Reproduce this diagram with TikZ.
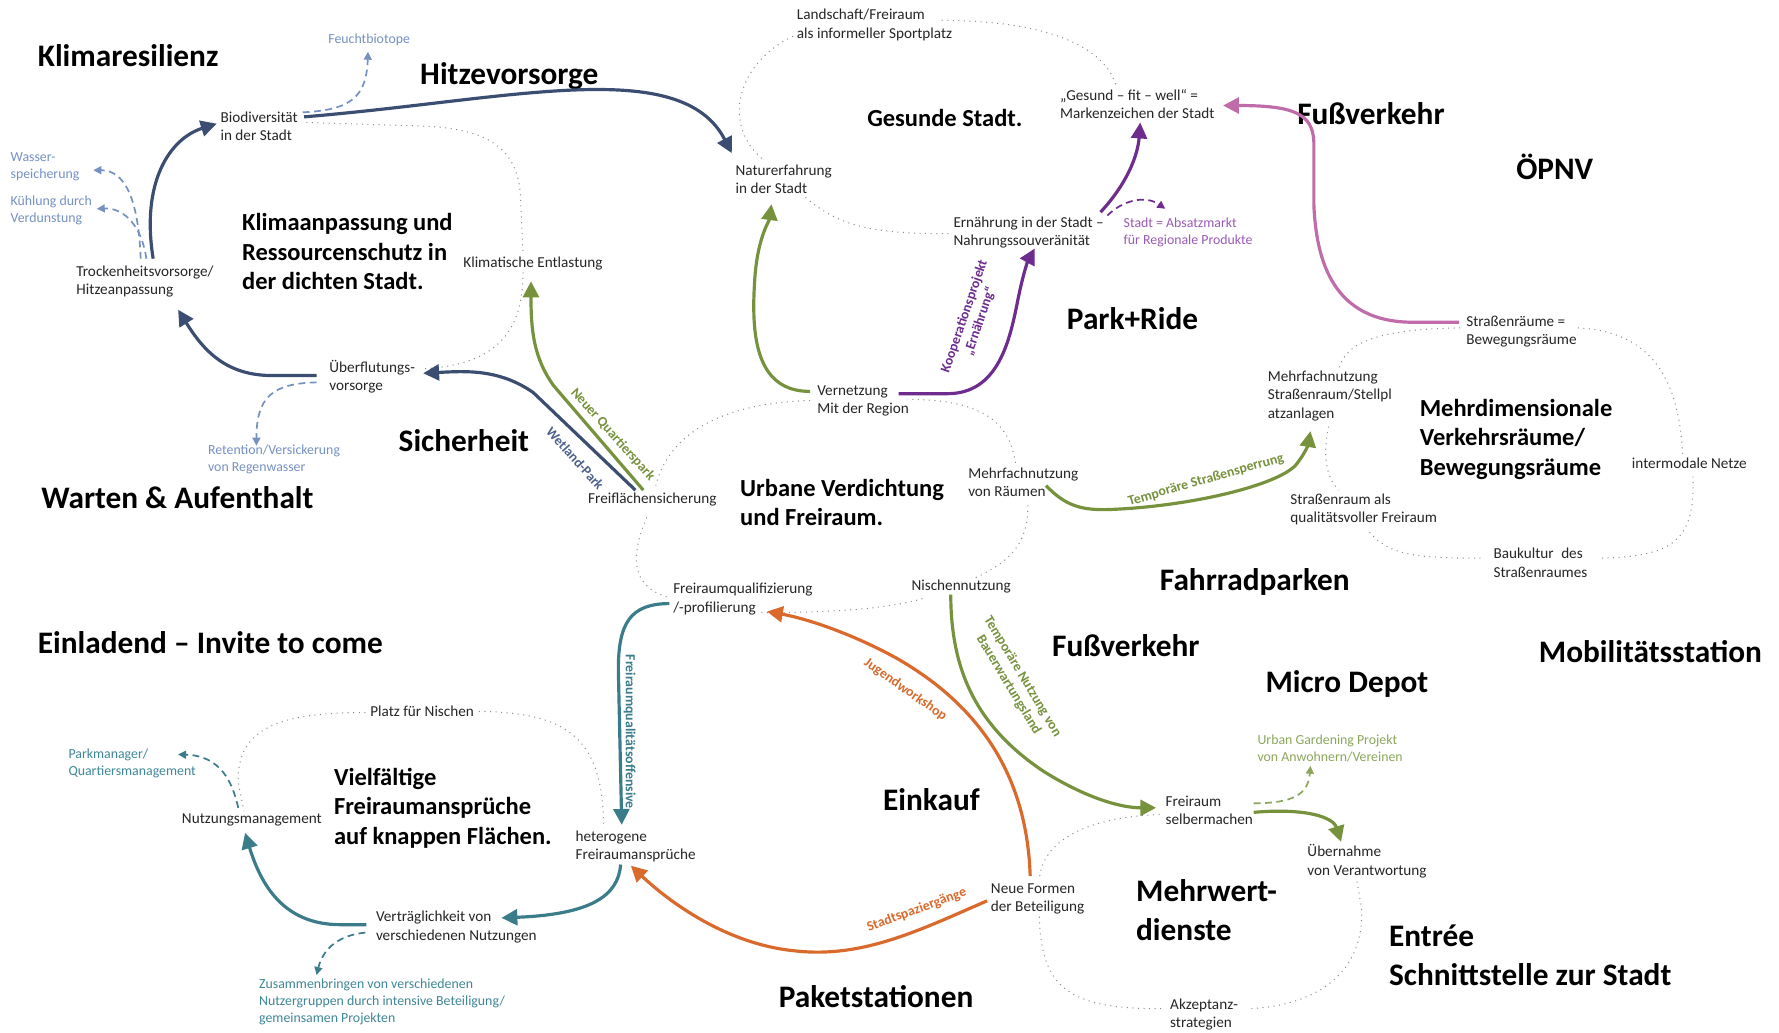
\documentclass[tikz,border=0pt]{standalone}
\usepackage{fontspec}
\setmainfont{Carlito}
\usetikzlibrary{arrows.meta,calc}
\definecolor{navy}{HTML}{3B4E72}
\definecolor{lblue}{HTML}{7591C2}
\definecolor{ogreen}{HTML}{76923C}
\definecolor{lgreen}{HTML}{8CA65C}
\definecolor{purp}{HTML}{6E2C8E}
\definecolor{lpurp}{HTML}{9A5AB5}
\definecolor{pink}{HTML}{C06CAB}
\definecolor{orng}{HTML}{D96A2C}
\definecolor{teal}{HTML}{3A7C8A}
\definecolor{lteal}{HTML}{3F8797}
\begin{document}
\begin{tikzpicture}[x=0.5pt,y=-0.5pt,
  tsmall/.style={font=\fontsize{6.7}{8}\selectfont, align=left, anchor=west, inner sep=0pt, text=black!85},
  tbig/.style={font=\fontsize{13.8}{17}\selectfont\bfseries, align=left, anchor=west, inner sep=0pt},
  tmid/.style={font=\fontsize{10.8}{13}\selectfont\bfseries, align=left, anchor=west, inner sep=0pt},
  tside/.style={font=\fontsize{6.1}{7.5}\selectfont, align=left, anchor=west, inner sep=0pt},
  alab/.style={font=\fontsize{6.1}{7.2}\selectfont\bfseries, inner sep=0pt, align=center},
  gdot/.style={draw=black!45, line width=0.45pt, dotted},
  sflow/.style={line width=1.4pt, -{Triangle[length=7pt,width=7pt]}},
  dflow/.style={line width=0.75pt, dash pattern=on 3pt off 2pt, -{Triangle[length=3.5pt,width=3.5pt]}}
]
\useasboundingbox (0,0) rectangle (1568,910);
\fill[white] (0,0) rectangle (1568,910);

% ---------- big labels ----------
\node[tbig] (klres) at (33,49) {Klimaresilienz};
\node[tbig] (hitze) at (370,67) {Hitzevorsorge};
\node[tbig] (fuss1) at (1143,100) {Fußverkehr};
\node[tbig] (oepnv) at (1336,147) {ÖPNV};
\node[tbig] (parkride) at (940,281) {Park+Ride};
\node[tbig] (sicher) at (351,388) {Sicherheit};
\node[tbig] (warten) at (36,439) {Warten \& Aufenthalt};
\node[tbig] (einl) at (33,566) {Einladend – Invite to come};
\node[tbig] (fahrrad) at (1022,513) {Fahrradparken};
\node[tbig] (fuss2) at (927,569) {Fußverkehr};
\node[tbig] (micro) at (1115,603) {Micro Depot};
\node[tbig] (mobil) at (1356,574) {Mobilitätsstation};
\node[tbig] (einkauf) at (778,705) {Einkauf};
\node[tbig] (mehrwert) at (1001,802) {Mehrwert-\\dienste};
\node[tbig] (entree) at (1224,842) {Entrée\\Schnittstelle zur Stadt};
\node[tbig] (paket) at (686,878) {Paketstationen};

% ---------- cycle titles ----------
\node[tmid] (t1) at (213,222) {Klimaanpassung und\\Ressourcenschutz in\\der dichten Stadt.};
\node[tmid] (t2) at (764,104) {Gesunde Stadt.};
\node[tmid] (t3) at (652,443) {Urbane Verdichtung\\und Freiraum.};
\node[tmid] (t4) at (1251,387) {Mehrdimensionale\\Verkehrsräume/\\Bewegungsräume};
\node[tmid] (t5) at (294,712) {Vielfältige\\Freiraumansprüche\\auf knappen Flächen.};

% ---------- small nodes ----------
\node[tsmall] (bio) at (194,111) {Biodiversität\\in der Stadt};
\node[tsmall] (trock) at (67,248) {Trockenheitsvorsorge/\\Hitzeanpassung};
\node[tsmall] (klimat) at (408,232) {Klimatische Entlastung};
\node[tsmall] (ueber) at (290,332) {Überflutungs-\\vorsorge};
\node[tsmall] (land) at (702,22) {Landschaft/Freiraum\\als informeller Sportplatz};
\node[tsmall] (natur) at (648,158) {Naturerfahrung\\in der Stadt};
\node[tsmall] (gesund) at (934,92) {„Gesund – fit – well“ =\\Markenzeichen der Stadt};
\node[tsmall] (ernaehr) at (840,205) {Ernährung in der Stadt –\\Nahrungssouveränität};
\node[tsmall] (vernetz) at (720,353) {Vernetzung\\Mit der Region};
\node[tsmall] (freifl) at (518,440) {Freiflächensicherung};
\node[tsmall] (mehrf) at (853,425) {Mehrfachnutzung\\von Räumen};
\node[tsmall] (nische) at (803,517) {Nischennutzung};
\node[tsmall] (fqual) at (593,528) {Freiraumqualifizierung\\/-profilierung};
\node[tsmall] (strr) at (1292,292) {Straßenräume =\\Bewegungsräume};
\node[tsmall] (mehrfs) at (1117,349) {Mehrfachnutzung\\Straßenraum/Stellpl\\atzanlagen};
\node[tsmall] (intermod) at (1438,408) {intermodale Netze};
\node[tsmall] (strals) at (1137,449) {Straßenraum als\\qualitätsvoller Freiraum};
\node[tsmall] (baukultur) at (1316,496) {Baukultur\enspace des\\Straßenraumes};
\node[tsmall] (platz) at (326,627) {Platz für Nischen};
\node[tsmall] (nutzung) at (160,723) {Nutzungsmanagement};
\node[tsmall] (hetero) at (507,746) {heterogene\\Freiraumansprüche};
\node[tsmall] (vertr) at (331,817) {Verträglichkeit von\\verschiedenen Nutzungen};
\node[tsmall] (neue) at (873,792) {Neue Formen\\der Beteiligung};
\node[tsmall] (freisel) at (1027,714) {Freiraum\\selbermachen};
\node[tsmall] (uebern) at (1152,759) {Übernahme\\von Verantwortung};
\node[tsmall] (akzept) at (1031,894) {Akzeptanz-\\strategien};

% ---------- side labels ----------
\node[tside, text=lblue] (feucht) at (289,35) {Feuchtbiotope};
\node[tside, text=lblue] (wasser) at (9,147) {Wasser-\\speicherung};
\node[tside, text=lblue] (kuehl) at (9,185) {Kühlung durch\\Verdunstung};
\node[tside, text=lblue] (retent) at (183,405) {Retention/Versickerung\\von Regenwasser};
\node[tside, text=lpurp] (absatz) at (990,205) {Stadt = Absatzmarkt\\für Regionale Produkte};
\node[tside, text=lgreen] (urban) at (1108,660) {Urban Gardening Projekt\\von Anwohnern/Vereinen};
\node[tside, text=lteal] (parkman) at (60,673) {Parkmanager/\\Quartiersmanagement};
\node[tside, text=lteal] (zusammen) at (228,883) {Zusammenbringen von verschiedenen\\Nutzergruppen durch intensive Beteiligung/\\gemeinsamen Projekten};

% ---------- dotted cycle lines ----------
\draw[gdot] ($(bio.west)+(76,-3)$) -- (370,111) .. controls (430,113) and (459,130) .. (459,180) -- ($(klimat.west)+(53,-8)$);
\draw[gdot] ($(klimat.west)+(53,8)$) .. controls (461,290) and (440,322) .. ($(ueber.west)+(82,-7)$);
\draw[gdot] ($(land.west)+(-3,10)$) .. controls (650,55) and (635,110) .. ($(natur.west)+(25,-17)$);
\draw[gdot] ($(natur.west)+(62,16)$) .. controls (740,200) and (770,206) .. ($(ernaehr.west)+(-4,1)$);
\draw[gdot] ($(land.west)+(128,-4)$) .. controls (920,18) and (975,40) .. ($(gesund.west)+(50,-15)$);
\draw[gdot] ($(vernetz.west)+(-6,0)$) .. controls (640,355) and (590,380) .. ($(freifl.west)+(60,-12)$);
\draw[gdot] ($(freifl.west)+(52,16)$) .. controls (560,480) and (550,515) .. ($(fqual.west)+(-5,-2)$);
\draw[gdot] ($(fqual.west)+(78,12)$) .. controls (720,540) and (780,538) .. ($(nische.west)+(12,10)$);
\draw[gdot] ($(nische.west)+(57,-8)$) .. controls (890,495) and (906,480) .. ($(mehrf.west)+(53,20)$);
\draw[gdot] ($(mehrf.west)+(42,-17)$) .. controls (890,375) and (870,352) .. ($(vernetz.west)+(80,-1)$);
\draw[gdot] ($(strr.west)+(-5,-3)$) .. controls (1220,290) and (1185,300) .. ($(mehrfs.west)+(63,-23)$);
\draw[gdot] ($(mehrfs.west)+(54,27)$) .. controls (1166,400) and (1168,420) .. ($(strals.west)+(43,-17)$);
\draw[gdot] ($(strals.west)+(70,20)$) .. controls (1225,490) and (1250,492) .. ($(baukultur.west)+(-8,-4)$);
\draw[gdot] ($(baukultur.west)+(96,-4)$) .. controls (1470,490) and (1495,480) .. ($(intermod.west)+(54,12)$);
\draw[gdot] ($(intermod.west)+(45,-8)$) .. controls (1480,340) and (1460,292) .. ($(strr.west)+(98,-3)$);
\draw[gdot] ($(platz.west)+(-4,1)$) .. controls (250,628) and (208,640) .. (210,690) -- ($(nutzung.west)+(55,-8)$);
\draw[gdot] ($(platz.east)+(4,0)$) .. controls (500,628) and (532,650) .. ($(hetero.west)+(25,-16)$);
\draw[gdot] ($(freisel.west)+(-5,4)$) .. controls (960,720) and (918,740) .. ($(neue.west)+(43,-16)$);
\draw[gdot] ($(neue.west)+(43,16)$) .. controls (918,870) and (940,890) .. ($(akzept.west)+(-4,-5)$);
\draw[gdot] ($(akzept.west)+(72,-5)$) .. controls (1170,885) and (1203,850) .. (1200,800) -- ($(uebern.west)+(44,18)$);

% ---------- navy arrows ----------
\draw[sflow, navy] ($(trock.west)+(68,-20)$) .. controls (124,160) and (150,122) .. ($(bio.west)+(-3,-2)$);
\draw[sflow, navy] ($(bio.west)+(74,-8)$) .. controls (450,88) and (600,48) .. ($(natur.west)+(-3,-23)$);
\draw[sflow, navy] ($(ueber.west)+(-11,-1)$) -- (240,331) .. controls (200,331) and (180,310) .. ($(trock.west)+(90,25)$);
\draw[sflow, navy] ($(freifl.west)+(42,-8)$) -- (470,346) .. controls (440,325) and (410,327) .. ($(ueber.west)+(83,-3)$);
% ---------- light blue dashed ----------
\draw[dflow, lblue] ($(bio.east)+(4,-12)$) .. controls (310,97) and (323,85) .. ($(feucht.south)+(-1,5)$);
\draw[dflow, lblue] ($(trock.west)+(57,-20)$) .. controls (122,175) and (110,150) .. ($(wasser.east)+(12,3)$);
\draw[dflow, lblue] ($(trock.west)+(62,-20)$) .. controls (125,200) and (110,183) .. ($(kuehl.east)+(4,-1)$);
\draw[dflow, lblue] ($(ueber.west)+(-11,5)$) .. controls (240,338) and (226,350) .. ($(retent.north west)+(43,1)$);

% ---------- green arrows ----------
\draw[sflow, ogreen] ($(freifl.west)+(49,-8)$) -- (488,340) .. controls (470,315) and (468,290) .. ($(klimat.west)+(60,16)$);
\draw[sflow, ogreen] ($(vernetz.west)+(-6,-8)$) .. controls (668,345) and (662,300) .. (665,250) .. controls (667,210) and (678,195) .. ($(natur.west)+(32,22)$);
\draw[sflow, ogreen] ($(mehrf.west)+(69,3)$) .. controls (940,447) and (955,450) .. (980,449) .. controls (1050,446) and (1125,428) .. (1142,410) .. controls (1150,400) and (1153,392) .. ($(mehrfs.west)+(38,31)$);
\draw[sflow, ogreen] ($(nische.west)+(35,7)$) .. controls (838,590) and (860,640) .. (920,680) .. controls (960,705) and (990,712) .. ($(freisel.west)+(-8,-2)$);
\draw[sflow, ogreen] ($(freisel.west)+(78,2)$) .. controls (1150,712) and (1175,720) .. ($(uebern.west)+(30,-17)$);
\draw[dflow, lgreen] ($(freisel.west)+(78,-6)$) .. controls (1140,708) and (1153,700) .. ($(urban.west)+(47,15)$);

% ---------- purple arrows ----------
\draw[sflow, purp] ($(vernetz.west)+(72,-6)$) -- (835,347) .. controls (880,347) and (890,300) .. (897,265) .. controls (902,240) and (906,230) .. ($(ernaehr.west)+(72,14)$);
\draw[sflow, purp] ($(ernaehr.west)+(130,-18)$) .. controls (995,160) and (1003,135) .. ($(gesund.west)+(71,16)$);
\draw[dflow, purp] ($(ernaehr.west)+(136,-15)$) .. controls (990,176) and (1010,172) .. ($(absatz.west)+(37,-21)$);

% ---------- pink arrow ----------
\draw[sflow, pink] ($(strr.west)+(-6,-8)$) -- (1245,284) .. controls (1175,284) and (1160,230) .. (1158,180) -- (1158,125) .. controls (1157,100) and (1140,93) .. ($(gesund.west)+(144,1)$);

% ---------- orange arrows ----------
\draw[sflow, orng] ($(neue.west)+(35,-20)$) .. controls (905,680) and (860,620) .. (790,580) .. controls (750,558) and (710,545) .. ($(fqual.west)+(83,11)$);
\draw[sflow, orng] ($(neue.west)+(-3,2)$) .. controls (810,820) and (760,845) .. (700,838) .. controls (640,832) and (590,795) .. ($(hetero.west)+(49,17)$);

% ---------- teal arrows ----------
\draw[sflow, teal] ($(fqual.west)+(-3,4)$) .. controls (555,532) and (545,550) .. (545,590) -- ($(hetero.west)+(41,-19)$);
\draw[sflow, teal] ($(hetero.west)+(40,16)$) .. controls (545,790) and (520,806) .. ($(vertr.west)+(111,-8)$);
\draw[sflow, teal] ($(vertr.west)+(-8,-2)$) -- (300,815) .. controls (250,815) and (230,780) .. ($(nutzung.west)+(56,11)$);
\draw[dflow, teal] ($(nutzung.west)+(50,-11)$) .. controls (205,690) and (195,666) .. ($(parkman.west)+(97,-8)$);
\draw[dflow, teal] ($(vertr.west)+(-9,5)$) .. controls (300,824) and (285,835) .. ($(zusammen.north west)+(51,-3)$);

% ---------- arrow labels ----------
\node[alab, text=ogreen, rotate=-48] (lquart) at (540,383) {Neuer Quartierspark};
\node[alab, text=navy!70!lblue, rotate=-48] (lwet) at (507,404) {Wetland-Park};
\node[alab, text=purp, rotate=71] (lkoop) at (857,281) {Kooperationsprojekt\\„Ernährung“};
\node[alab, text=ogreen, rotate=16] (lsperr) at (1063,423) {Temporäre Straßensperrung};
\node[alab, text=ogreen, rotate=-59] (lbauer) at (895,600) {Temporäre Nutzung von\\Bauerwartungsland};
\node[alab, text=orng, rotate=-35] (ljugend) at (798,608) {Jugendworkshop};
\node[alab, text=orng, rotate=20] (lspaz) at (808,802) {Stadtspaziergänge};
\node[alab, text=teal, rotate=-90] (loff) at (555,645) {Freiraumqualitätsoffensive};
\end{tikzpicture}
\end{document}
